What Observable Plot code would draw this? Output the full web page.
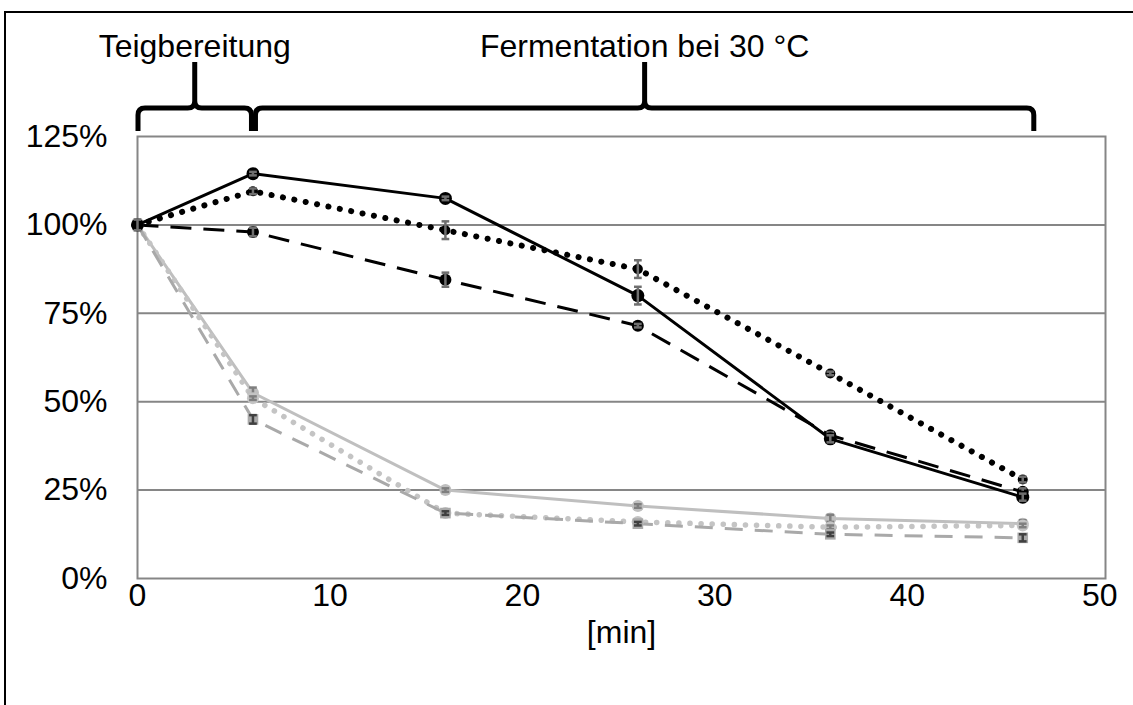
<!DOCTYPE html>
<html><head><meta charset="utf-8">
<script src="https://cdn.jsdelivr.net/npm/d3@7"></script>
<script src="https://cdn.jsdelivr.net/npm/@observablehq/plot@0.6"></script>
<style>
body{margin:0;background:#fff;overflow:hidden;}
#wrap{position:relative;width:1133px;height:705px;overflow:hidden;background:#fff;}
</style></head><body><div id="wrap"></div>
<script>
// ---- data ----
const minutes = [0, 6, 16, 26, 36, 46];
const blackSolid  = [100, 114.5, 107.5, 80, 39.5, 23];
const blackDotted = [100, 109.5, 98.5, 87.5, 58, 28];
const blackDashed = [100, 98, 84.5, 71.5, 40.5, 24.5];
const graySolid   = [100, 52.5, 25, 20.5, 17, 15.5];
const grayDotted  = [100, 51, 18.5, 16, 14.5, 15];
const grayDashed  = [100, 45, 18.5, 15.5, 12.5, 11.5];
const errBlackSolid  = [1.5, 0.5, 0.5, 2.5, 1, 1];
const errBlackDotted = [1, 0.8, 2.5, 2.5, 0.5, 0.8];
const errBlackDashed = [1, 1.2, 2, 0.5, 0.8, 1];
const errGraySolid   = [1.5, 1.5, 0.5, 0.5, 1, 1];
const errGrayDotted  = [1, 0.5, 0.5, 0.5, 0.5, 0.5];
const errGrayDashed  = [1, 1.2, 0.5, 0.5, 0.5, 1];
const yTicks = [0, 25, 50, 75, 100, 125];
const xTicks = [0, 10, 20, 30, 40, 50];
const phaseLabels = ["Teigbereitung", "Fermentation bei 30 °C"];
const phaseStart = [0, 6];
const phaseEnd = [6, 46.6];
const xLabel = "[min]";

// ---- styles ----
const FONT = "'Liberation Sans', Arial, sans-serif";
const FS = 32;
const series = [
  {v: graySolid,   e: errGraySolid,   stroke: "#bfbfbf", dash: null,     cap: "butt",  w: 3,   sym: "circle", r: 6,   errC: "#7f7f7f"},
  {v: grayDotted,  e: errGrayDotted,  stroke: "#c4c4c4", dash: "0.1 11", cap: "round", w: 5.5, sym: "circle", r: 6,   errC: "#7f7f7f"},
  {v: grayDashed,  e: errGrayDashed,  stroke: "#a9a9a9", dash: "18 12",  cap: "butt",  w: 3,   sym: "square", r: 6,   errC: "#404040"},
  {v: blackDashed, e: errBlackDashed, stroke: "#000",    dash: "21 12",  cap: "butt",  w: 3,   sym: "circle", r: 6,   errC: "#6f6f6f"},
  {v: blackDotted, e: errBlackDotted, stroke: "#000",    dash: "0.1 11.5", cap: "round", w: 6, sym: "circle", r: 5, errC: "#6f6f6f"},
  {v: blackSolid,  e: errBlackSolid,  stroke: "#000",    dash: null,     cap: "butt",  w: 3,   sym: "circle", r: 6.5, errC: "#6f6f6f"}
];

const marks = [
  Plot.gridY([25, 50, 75, 100], {stroke: "#868686", strokeOpacity: 1, strokeWidth: 2}),
  Plot.frame({stroke: "#868686", strokeWidth: 2}),
  Plot.axisY({ticks: yTicks, tickSize: 0, tickPadding: 30, tickFormat: d => d + "%", fontSize: FS, label: null}),
  Plot.axisX({ticks: xTicks, tickSize: 0, tickPadding: 5, fontSize: FS, label: null}),
  Plot.text([xLabel], {frameAnchor: "bottom", lineAnchor: "middle", dy: 54, fontSize: FS, fill: "#000"})
];

for (const s of series) {
  const rows = minutes.map((m, i) => ({x: m, y: s.v[i], e: s.e[i]}));
  marks.push(Plot.line(rows, {x: "x", y: "y", stroke: s.stroke, strokeWidth: s.w,
    strokeDasharray: s.dash || undefined, strokeLinecap: s.cap}));
}
for (const s of series) {
  const rows = minutes.map((m, i) => ({x: m, y: s.v[i], e: s.e[i]}));
  marks.push(Plot.dot(rows, {x: "x", y: "y", r: s.r, symbol: s.sym, fill: s.stroke, stroke: "none"}));
  marks.push(Plot.ruleX(rows, {x: "x", y1: d => d.y - d.e, y2: d => d.y + d.e, stroke: s.errC, strokeWidth: 2.5}));
  marks.push(Plot.link(rows, {x1: d => d.x - 0.2, x2: d => d.x + 0.2, y1: d => d.y + d.e, y2: d => d.y + d.e, stroke: s.errC, strokeWidth: 2.5}));
  marks.push(Plot.link(rows, {x1: d => d.x - 0.2, x2: d => d.x + 0.2, y1: d => d.y - d.e, y2: d => d.y - d.e, stroke: s.errC, strokeWidth: 2.5}));
}

// phase brackets + outer border (annotation drawn through the x scale)
marks.push((index, scales, values, dims) => {
  const g = d3.create("svg:g");
  g.append("path").attr("d", `M5,${dims.height} V12 H${dims.width}`)
    .attr("fill", "none").attr("stroke", "#000").attr("stroke-width", 2);
  const yTip = 131, yBar = 108, yPeak = 62, r = 7;
  phaseLabels.forEach((lab, i) => {
    const x0 = scales.x(phaseStart[i]) + (i === 0 ? 1 : 3);
    const x1 = scales.x(phaseEnd[i]) - (i === 0 ? 1 : 0);
    const xm = (x0 + x1) / 2;
    const p = d3.path();
    p.moveTo(x0, yTip); p.lineTo(x0, yBar + r);
    p.quadraticCurveTo(x0, yBar, x0 + r, yBar);
    p.lineTo(xm - r, yBar);
    p.quadraticCurveTo(xm, yBar, xm, yBar - r);
    p.lineTo(xm, yPeak);
    p.moveTo(xm, yBar - r);
    p.quadraticCurveTo(xm, yBar, xm + r, yBar);
    p.lineTo(x1 - r, yBar);
    p.quadraticCurveTo(x1, yBar, x1, yBar + r);
    p.lineTo(x1, yTip);
    g.append("path").attr("d", p.toString()).attr("fill", "none")
      .attr("stroke", "#000").attr("stroke-width", 5).attr("stroke-linejoin", "round");
    g.append("text").attr("x", xm).attr("y", 57).attr("text-anchor", "middle")
      .attr("font-family", FONT).attr("font-size", FS).attr("fill", "#000").text(lab);
  });
  return g.node();
});

const chart = Plot.plot({
  width: 1133, height: 705,
  marginLeft: 137, marginRight: 28, marginTop: 136, marginBottom: 127,
  x: {domain: [0, 50.3]},
  y: {domain: [0, 125]},
  style: {fontFamily: FONT, fontSize: FS + "px", color: "#000", background: "#fff", overflow: "visible"},
  marks
});
document.getElementById("wrap").appendChild(chart);
</script>
</body></html>
